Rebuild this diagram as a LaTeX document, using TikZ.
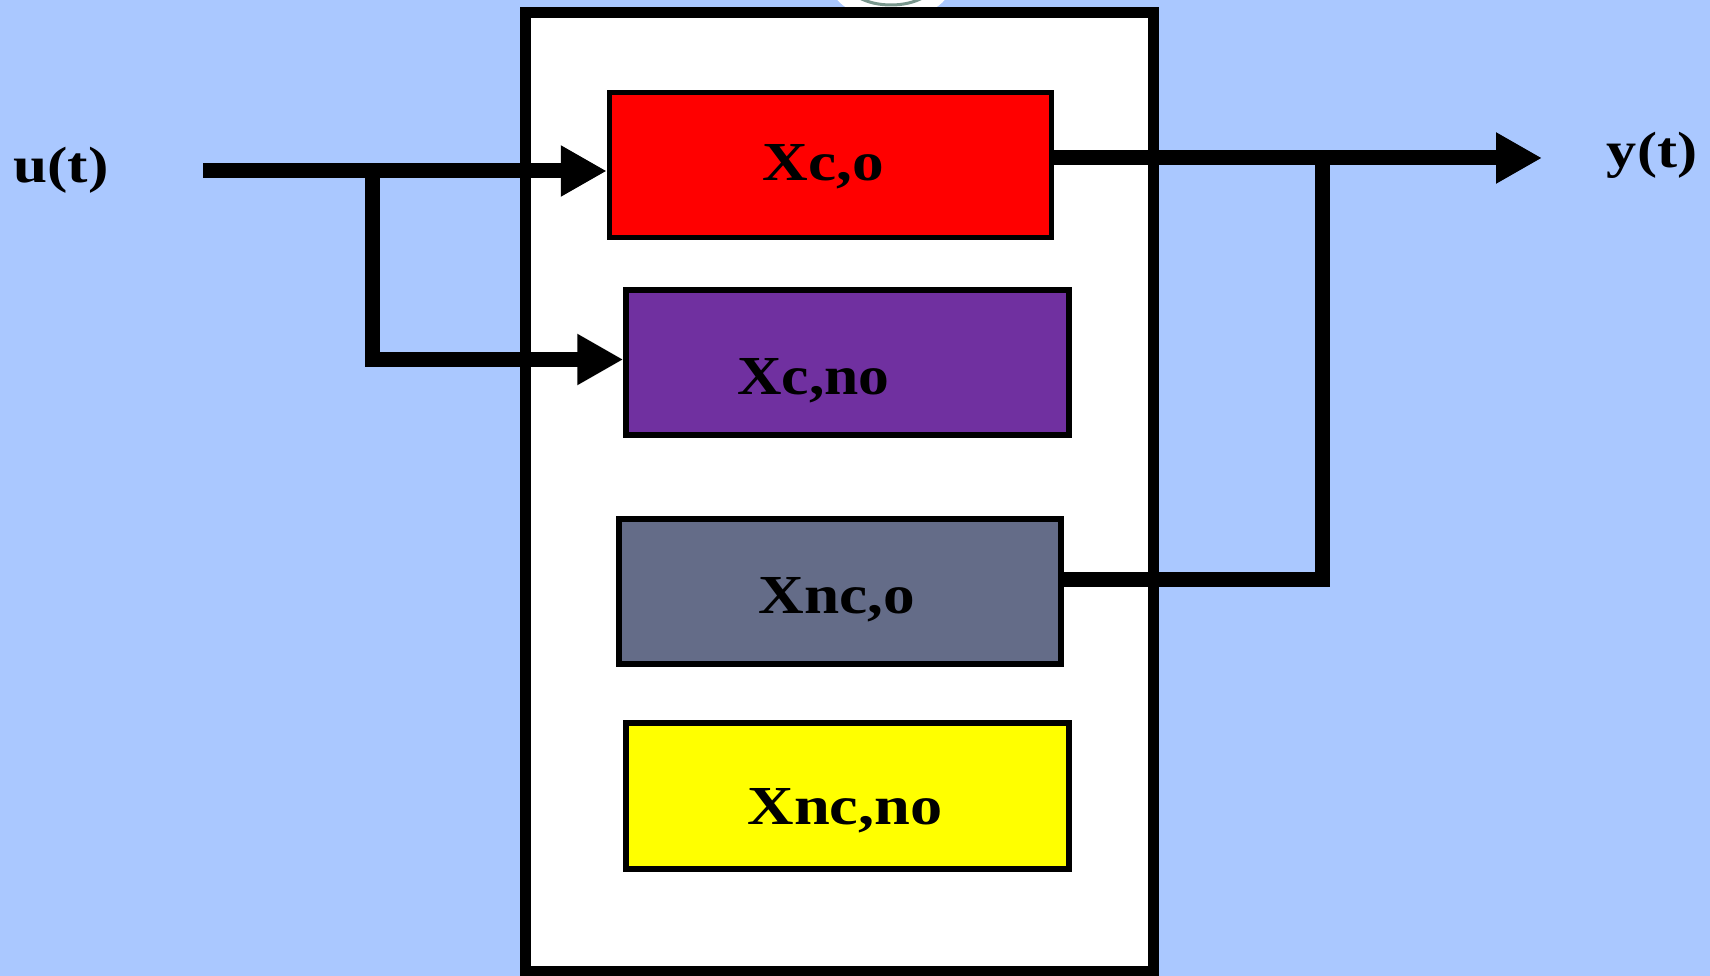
\documentclass[tikz,border=0pt]{standalone}
\usepackage{graphicx}
\usepackage{fontspec}
\setmainfont{Liberation Serif}
\usetikzlibrary{arrows.meta}
\definecolor{bg}{RGB}{170,200,255}
\definecolor{cpurple}{RGB}{112,48,160}
\definecolor{cgrey}{RGB}{100,108,136}
\definecolor{cyellow}{RGB}{255,255,0}
\definecolor{cred}{RGB}{255,0,0}
\definecolor{cring}{RGB}{120,150,140}
\begin{document}
\begin{tikzpicture}[x=1pt,y=-1pt,
  blk/.style={draw=black,line width=5.5pt,inner sep=0pt,minimum width=442pt,minimum height=145pt},
  lbl/.style={anchor=base,inner sep=0pt,font=\bfseries\fontsize{55}{60}\selectfont},
  iolbl/.style={anchor=base,inner sep=0pt,font=\bfseries\fontsize{51}{56}\selectfont},
  wire/.style={line width=15pt},
  arr/.style={wire,-{Triangle[length=46pt,width=48pt]}}]
\useasboundingbox (0,0) rectangle (1710,976);
\fill[bg] (0,0) rectangle (1710,976);
\begin{scope}
\clip (0,0) rectangle (1710,976);
\fill[white] (891,-20) ellipse [x radius=62pt, y radius=40pt];
\draw[cring,line width=3pt] (891,-20) ellipse [x radius=45pt, y radius=25pt];
\end{scope}
% outer system box
\node[draw=black,fill=white,line width=11pt,inner sep=0pt,minimum width=627.5pt,minimum height=958pt] (sys) at (839.25,492) {};
% inner boxes
\node[blk,fill=cred] (co) at (830.5,165) {};
\node[blk,fill=cpurple,minimum width=443pt] (cno) at (847.5,362.5) {};
\node[blk,fill=cgrey] (nco) at (840,591.5) {};
\node[blk,fill=cyellow,minimum width=443pt,minimum height=146pt] (ncno) at (847.5,796) {};
% labels
\node[lbl] (tco) at (823.5,181) {\scalebox{1.15}[1]{Xc,o}};
\node[lbl] (tcno) at (813.5,394) {\scalebox{1.12}[1]{Xc,no}};
\node[lbl] (tnco) at (837,613) {\scalebox{1.15}[1]{Xnc,o}};
\node[lbl] (tncno) at (845,824) {\scalebox{1.17}[1]{Xnc,no}};
\node[iolbl] (u) at (61,183) {\scalebox{1.2}[1]{u(t)}};
\node[iolbl] (y) at (1652,168) {\scalebox{1.18}[1]{y(t)}};
% wires
\coordinate (uin) at (203,171);
\coordinate (split) at (372,171);
\coordinate (corner) at (372,359.5);
\coordinate (yout) at (1542,158);
\coordinate (ytap) at (1322,158);
\coordinate (ycorner) at (1322,579);
\draw[arr] (uin) -- (uin -| co.west);
\draw[arr,miter limit=10] (split) -- (corner) -- (corner -| cno.west);
\draw[arr] (yout -| co.east) -- (yout);
\draw[wire] (ycorner -| nco.east) -- (ycorner) -- (ytap);
\end{tikzpicture}
\end{document}
